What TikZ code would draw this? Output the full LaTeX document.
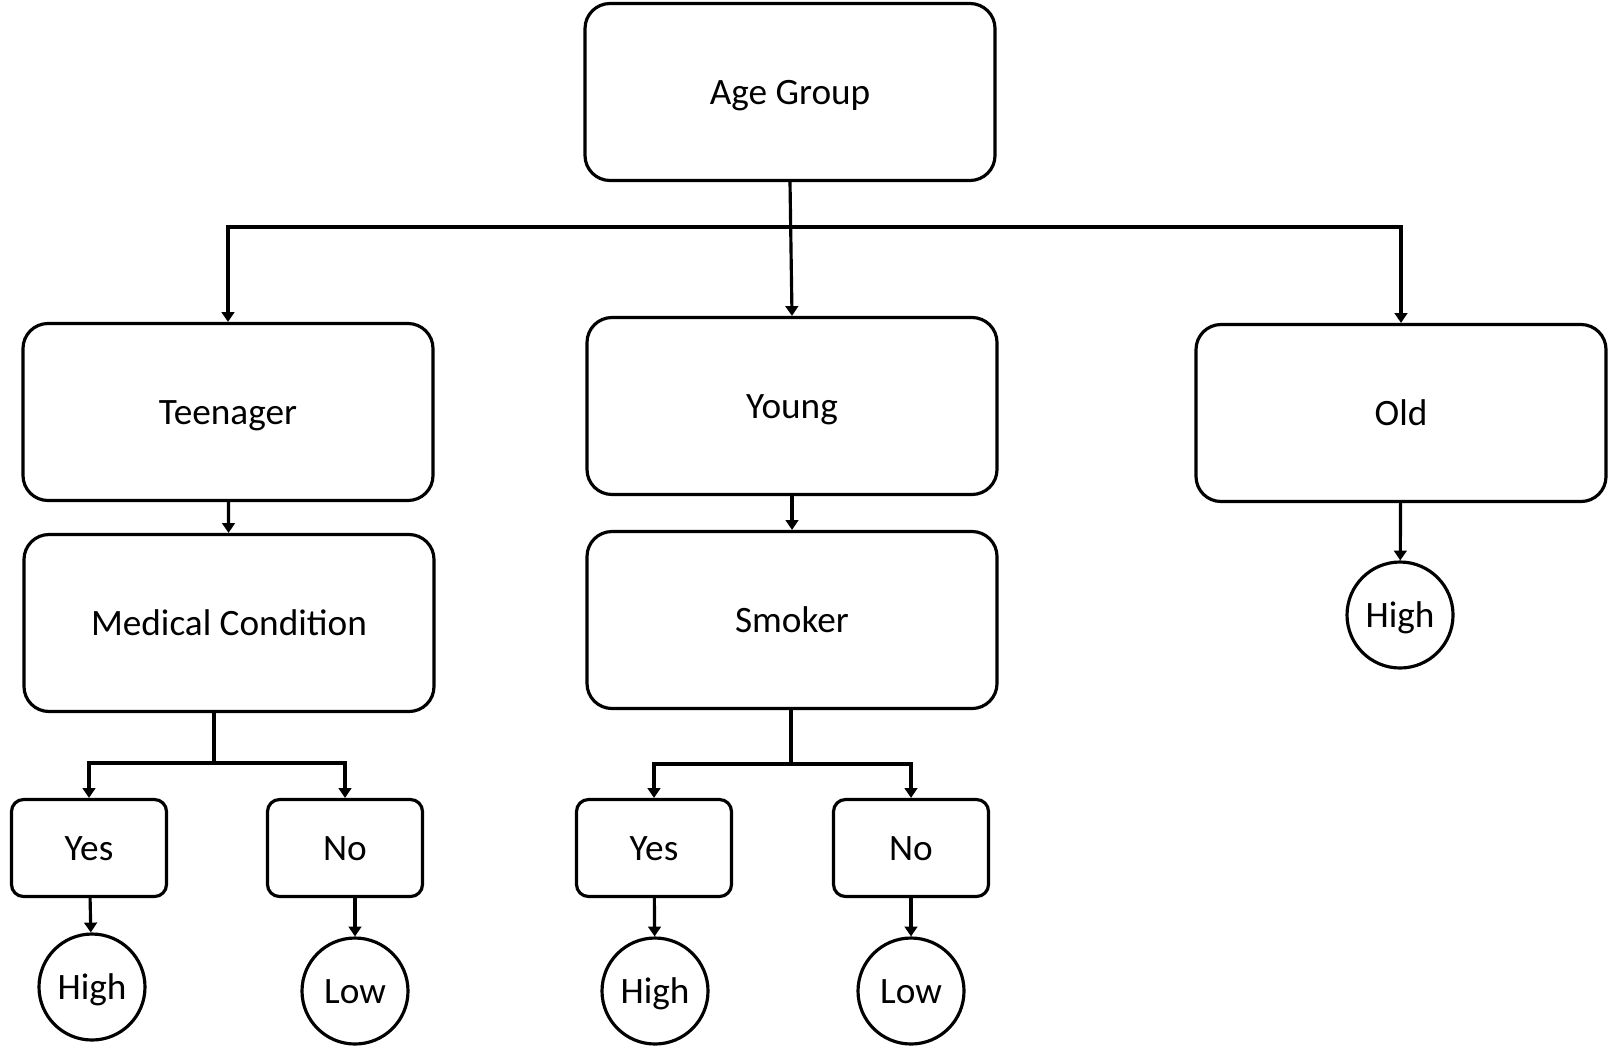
\documentclass[tikz,border=0pt]{standalone}
\usepackage{fontspec}
\setmainfont{Carlito}
\usetikzlibrary{arrows.meta, positioning, calc}
\tikzset{
    % Box styles
    bigbox/.style={
        rectangle,
        rounded corners=0.25cm,
        draw=black,
        line width=0.9pt,
        minimum width=4.1cm,
        minimum height=1.77cm,
        align=center,
        text height=0.9em,
        text depth=0.2em,
        font=\fontsize{10.6}{12}\selectfont
    },
    smallbox/.style={
        rectangle,
        rounded corners=0.12cm,
        draw=black,
        line width=0.9pt,
        minimum width=1.55cm,
        minimum height=0.97cm,
        align=center,
        text height=0.9em,
        text depth=0.2em,
        font=\fontsize{10.6}{12}\selectfont
    },
    leaf/.style={
        circle,
        draw=black,
        line width=0.9pt,
        minimum size=1.06cm,
        inner sep=0pt,
        text height=0.9em,
        text depth=0.2em,
        font=\fontsize{10.6}{12}\selectfont
    },
    % Connector styles
    arrow/.style={
        -{Triangle[length=2.8pt, width=3.6pt]},
        line width=0.9pt,
        draw=black
    },
    plainline/.style={
        line width=0.9pt,
        draw=black
    }
}
\begin{document}
\begin{tikzpicture}
    \useasboundingbox (0,0) rectangle (16.09,-10.45);

    \node[bigbox] (age) at (7.90,-0.92) {Age Group};

    \node[bigbox] (teen) at (2.28,-4.12) {Teenager};
    \node[bigbox] (young) at (7.92,-4.06) {Young};
    \node[bigbox] (old) at (14.01,-4.13) {Old};

    \node[bigbox] (med) at (2.29,-6.23) {Medical Condition};
    \node[bigbox] (smoker) at (7.92,-6.20) {Smoker};
    \node[leaf] (oldhigh) at (14.00,-6.15) {High};

    \node[smallbox] (medyes) at (0.89,-8.48) {Yes};
    \node[smallbox] (medno) at (3.45,-8.48) {No};
    \node[smallbox] (smkyes) at (6.54,-8.48) {Yes};
    \node[smallbox] (smkno) at (9.11,-8.48) {No};

    \node[leaf] (medhigh) at (0.92,-9.87) {High};
    \node[leaf] (medlow) at (3.55,-9.91) {Low};
    \node[leaf] (smkhigh) at (6.55,-9.91) {High};
    \node[leaf] (smklow) at (9.11,-9.91) {Low};

    % split points
    \coordinate (agesplit) at (7.90,-2.27);
    \coordinate (medsplit) at (2.14,-7.63);
    \coordinate (smksplit) at (7.91,-7.64);

    \draw[arrow] (age.south) -- (young.north);
    \draw[arrow] (agesplit) -| (teen.north);
    \draw[arrow] (agesplit) -| (old.north);

    \draw[arrow] (teen) -- (med);
    \draw[arrow] (young) -- (smoker);
    \draw[arrow] (old) -- (oldhigh);

    \draw[plainline] (med.south -| medsplit) -- (medsplit);
    \draw[arrow] (medsplit) -| (medyes.north);
    \draw[arrow] (medsplit) -| (medno.north);
    \draw[plainline] (smoker.south -| smksplit) -- (smksplit);
    \draw[arrow] (smksplit) -| (smkyes.north);
    \draw[arrow] (smksplit) -| (smkno.north);

    \draw[arrow] (medyes) -- (medhigh);
    \draw[arrow] (medno.south -| medlow) -- (medlow);
    \draw[arrow] (smkyes) -- (smkhigh);
    \draw[arrow] (smkno) -- (smklow);
\end{tikzpicture}
\end{document}
